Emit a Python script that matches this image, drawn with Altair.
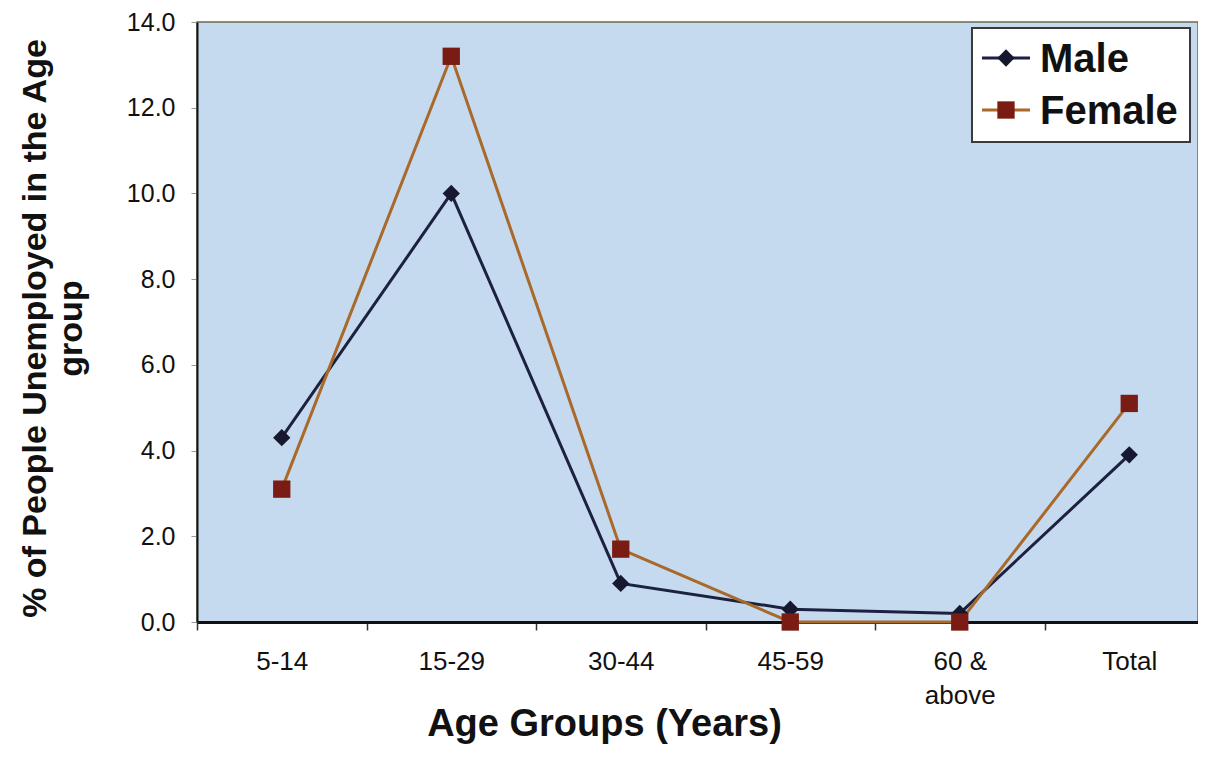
import altair as alt
import pandas as pd

# ---- data ----
age_groups = ["5-14", "15-29", "30-44", "45-59", "60 & above", "Total"]
series_names = ["Male", "Female"]
male_values = [4.3, 10.0, 0.9, 0.3, 0.2, 3.9]
female_values = [3.1, 13.2, 1.7, 0.0, 0.0, 5.1]
y_ticks = [0, 2, 4, 6, 8, 10, 12, 14]

rows = []
for g, v in zip(age_groups, male_values):
    rows.append({"age": g, "series": "Male", "value": v})
for g, v in zip(age_groups, female_values):
    rows.append({"age": g, "series": "Female", "value": v})
df = pd.DataFrame(rows)
legend_df = pd.DataFrame({"series": series_names})

FONT = "Liberation Sans"
line_colors = ["#1c2140", "#a8692a"]
marker_colors = ["#15182e", "#7a1c14"]
shapes = ["diamond", "square"]

stroke_scale = alt.Scale(domain=series_names, range=line_colors)
fill_scale = alt.Scale(domain=series_names, range=marker_colors)
shape_scale = alt.Scale(domain=series_names, range=shapes)

x_enc = alt.X(
    "age:N",
    sort=age_groups,
    bandPosition=0.5,
    scale=alt.Scale(type="band", paddingInner=0, paddingOuter=0, range=[0, 1017]),
    axis=alt.Axis(
        tickBand="extent",
        labelExpr="datum.label == '60 & above' ? ['60 &', 'above'] : datum.label",
        labelAngle=0,
        labelFont=FONT,
        labelFontSize=26,
        labelLineHeight=34,
        labelBaseline="top",
        labelColor="#111",
        tickSize=8,
        tickColor="#333",
        tickWidth=1.5,
        labelPadding=18,
        domainColor="#111",
        domainWidth=3,
        title="Age Groups (Years)",
        titleFont=FONT,
        titleFontSize=38,
        titleFontWeight="bold",
        titleColor="#111",
        titleX=407,
        titleY=113,
        titleAlign="center",
        titleBaseline="alphabetic",
    ),
)

y_enc = alt.Y(
    "value:Q",
    scale=alt.Scale(domain=[0, 14], nice=False, zero=True),
    axis=alt.Axis(
        values=y_ticks,
        format=".1f",
        grid=False,
        labelFont=FONT,
        labelFontSize=25,
        labelColor="#111",
        tickSize=6,
        tickColor="#999",
        labelPadding=16,
        domainColor="#111",
        domainWidth=2,
        title=["% of People Unemployed in the Age", "group"],
        titleFont=FONT,
        titleFontSize=34,
        titleFontWeight="bold",
        titleColor="#111",
        titleLineHeight=36,
        titleX=-162,
        titleY=306,
        titleAlign="center",
        titleBaseline="middle",
    ),
)

base = alt.Chart(df)

lines = base.mark_line(strokeWidth=3).encode(
    x=x_enc,
    y=y_enc,
    color=alt.Color("series:N", scale=stroke_scale, legend=None),
    detail="series:N",
)

points = base.mark_point(filled=True, size=300, opacity=1).encode(
    x=x_enc,
    y=y_enc,
    fill=alt.Fill("series:N", scale=fill_scale, legend=None),
    shape=alt.Shape("series:N", scale=shape_scale, legend=None),
)

data_layer = alt.layer(lines, points)

# ---- legend box (inside plot, top right) ----
leg_base = alt.Chart(legend_df)
leg_layers = [
    leg_base.mark_rect(fill="white", stroke="#3a3a3a", strokeWidth=2).encode(
        x=alt.value(775), x2=alt.value(993), y=alt.value(6), y2=alt.value(120)
    )
]
for i, name in enumerate(series_names):
    row_y = 36 + 52 * i
    sub = leg_base.transform_filter(alt.datum.series == name)
    leg_layers.append(
        sub.mark_rule(strokeWidth=3).encode(
            x=alt.value(785), x2=alt.value(833), y=alt.value(row_y),
            color=alt.Color("series:N", scale=stroke_scale, legend=None),
        )
    )
    leg_layers.append(
        sub.mark_point(filled=True, size=300, opacity=1).encode(
            x=alt.value(809), y=alt.value(row_y),
            fill=alt.Fill("series:N", scale=fill_scale, legend=None),
            shape=alt.Shape("series:N", scale=shape_scale, legend=None),
        )
    )
    leg_layers.append(
        sub.mark_text(
            align="left", baseline="middle", font=FONT, fontSize=40,
            fontWeight="bold", color="#111", dy=2,
        ).encode(x=alt.value(843), y=alt.value(row_y), text="series:N")
    )

legend_layer = alt.layer(*leg_layers)

chart = (
    alt.layer(data_layer, legend_layer)
    .properties(
        width=1001,
        height=600,
        autosize=alt.AutoSizeParams(type="none"),
        padding={"left": 189, "top": 14, "right": 0, "bottom": 130},
        background="white",
    )
    .configure_view(fill="#c6daef", stroke="#6b6b50", strokeWidth=1.5)
)

chart.save("out.html", embed_options={"renderer": "svg", "actions": False})
